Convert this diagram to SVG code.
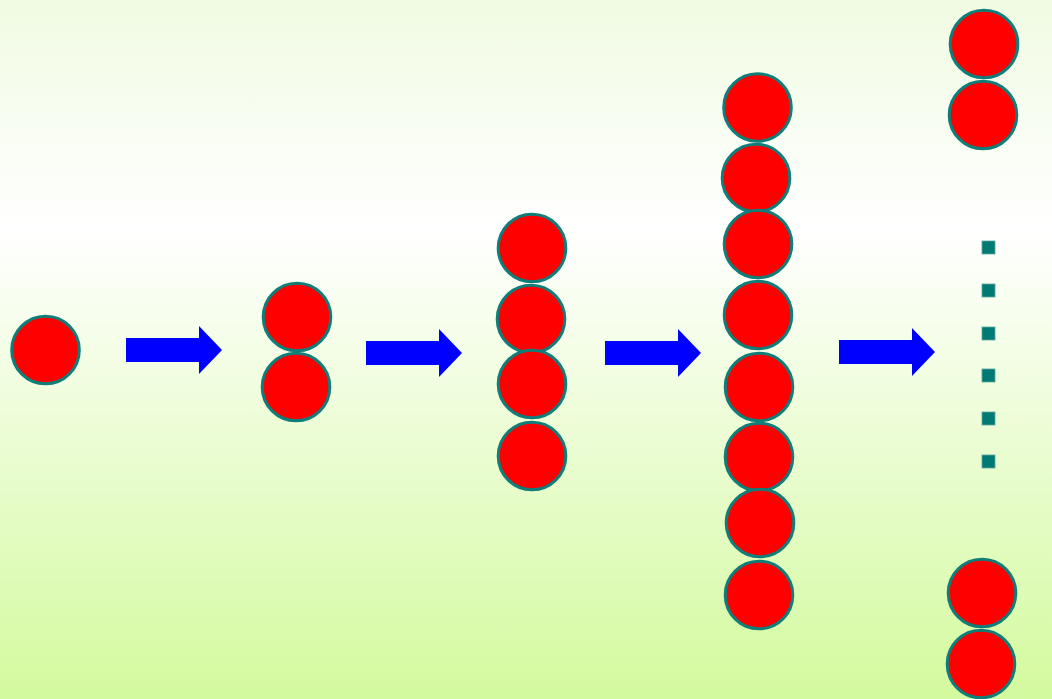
<svg xmlns="http://www.w3.org/2000/svg" width="1052" height="699" viewBox="0 0 1052 699">
<defs>
<linearGradient id="bg" x1="0" y1="0" x2="0" y2="1">
<stop offset="0" stop-color="#f0fbe2"/>
<stop offset="0.33" stop-color="#ffffff"/>
<stop offset="1" stop-color="#d3fa9e"/>
</linearGradient>
<path id="arr" d="M0,-12 H73 V-24 L96,0 L73,24 V12 H0 Z"/>
</defs>
<style>
.c{fill:#ff0000;stroke:#0f7d78;stroke-width:3}
.a{fill:#0000ff}
.d{fill:#007a72;stroke:#5aa8a0;stroke-width:0.8}
</style>
<rect width="1052" height="699" fill="url(#bg)"/>
<g id="connectors">
<use href="#arr" class="a" x="126" y="350"/>
<use href="#arr" class="a" x="366" y="353"/>
<use href="#arr" class="a" x="605" y="353"/>
<use href="#arr" class="a" x="839" y="352"/>
</g>
<g id="stage1"><circle class="c" cx="45.5" cy="350" r="33.8"/></g>
<g id="stage2">
<circle class="c" cx="297" cy="317" r="33.8"/>
<circle class="c" cx="296" cy="387" r="33.8"/>
</g>
<g id="stage3">
<circle class="c" cx="532" cy="248" r="33.8"/>
<circle class="c" cx="531" cy="319" r="33.8"/>
<circle class="c" cx="532" cy="384" r="33.8"/>
<circle class="c" cx="532" cy="456" r="33.8"/>
</g>
<g id="stage4">
<circle class="c" cx="757.5" cy="107.5" r="33.8"/>
<circle class="c" cx="756" cy="178" r="33.8"/>
<circle class="c" cx="758" cy="244" r="33.8"/>
<circle class="c" cx="758" cy="315" r="33.8"/>
<circle class="c" cx="759" cy="387" r="33.8"/>
<circle class="c" cx="759" cy="457" r="33.8"/>
<circle class="c" cx="760" cy="523" r="33.8"/>
<circle class="c" cx="759" cy="595" r="33.8"/>
</g>
<g id="stage5">
<circle class="c" cx="984" cy="44" r="33.8"/>
<circle class="c" cx="983" cy="115" r="33.8"/>
<rect class="d" x="982" y="241" width="13" height="13"/>
<rect class="d" x="982" y="284" width="13" height="13"/>
<rect class="d" x="982" y="327" width="13" height="13"/>
<rect class="d" x="982" y="369" width="13" height="13"/>
<rect class="d" x="982" y="412" width="13" height="13"/>
<rect class="d" x="982" y="455" width="13" height="13"/>
<circle class="c" cx="982" cy="593" r="33.8"/>
<circle class="c" cx="981" cy="664" r="33.8"/>
</g>
</svg>
